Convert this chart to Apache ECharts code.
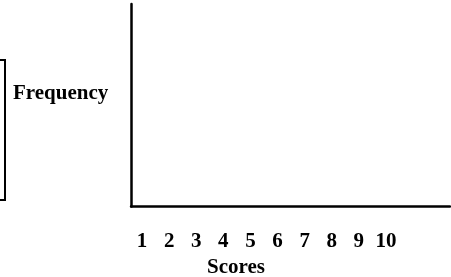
<!DOCTYPE html>
<html>
<head>
<meta charset="utf-8">
<script src="https://cdn.jsdelivr.net/npm/echarts@6/dist/echarts.min.js"></script>
<style>
  html, body { margin: 0; padding: 0; background: #fff; }
  #chart { width: 451px; height: 277px; }
</style>
</head>
<body>
<div id="chart"></div>
<script>
// empty frequency chart: axes only, no bars drawn yet
const scores = ['1', '2', '3', '4', '5', '6', '7', '8', '9', '10'];
const frequencies = [null, null, null, null, null, null, null, null, null, null];
const xTitle = 'Scores';
const yTitle = 'Frequency';

const serif = '"Liberation Serif", "Times New Roman", serif';

const myChart = echarts.init(document.getElementById('chart'));

const option = {
    backgroundColor: '#fff',
    animation: false,
    title: [
        {
            text: yTitle, left: 13, top: 83.5, padding: 0,
            textStyle: { fontFamily: serif, fontSize: 21, fontWeight: 'bold', color: '#000' }
        },
        {
            text: xTitle, left: 207, top: 257, padding: 0,
            textStyle: { fontFamily: serif, fontSize: 21, fontWeight: 'bold', color: '#000' }
        }
    ],
    grid: [
        { left: 131, right: 1, top: 4, height: 202.5 },
        // labels sit on their own narrower band, as in the original
        { left: 128.5, width: 271, top: 221, height: 1 }
    ],
    xAxis: [
        {
            gridIndex: 0, type: 'category', data: scores,
            axisLine: { lineStyle: { color: '#000', width: 2.5 } },
            axisTick: { show: false },
            axisLabel: { show: false }
        },
        {
            gridIndex: 1, type: 'category', data: scores,
            axisLine: { show: false },
            axisTick: { show: false },
            axisLabel: {
                interval: 0, margin: 9,
                fontFamily: serif, fontSize: 21, fontWeight: 'bold', color: '#000'
            }
        }
    ],
    yAxis: [
        {
            gridIndex: 0, type: 'value', min: 0, max: 10,
            axisLine: { show: true, lineStyle: { color: '#000', width: 2.5 } },
            axisTick: { show: false },
            axisLabel: { show: false },
            splitLine: { show: false }
        },
        {
            gridIndex: 1, type: 'value', show: false
        }
    ],
    graphic: [
        {
            // frame cut off at the left edge
            type: 'rect',
            shape: { x: -20, y: 60, width: 25, height: 140 },
            style: { fill: 'none', stroke: '#000', lineWidth: 2 }
        }
    ],
    series: [
        {
            type: 'bar', xAxisIndex: 0, yAxisIndex: 0,
            data: frequencies,
            itemStyle: { color: '#000' }
        }
    ]
};

myChart.setOption(option);
</script>
</body>
</html>
